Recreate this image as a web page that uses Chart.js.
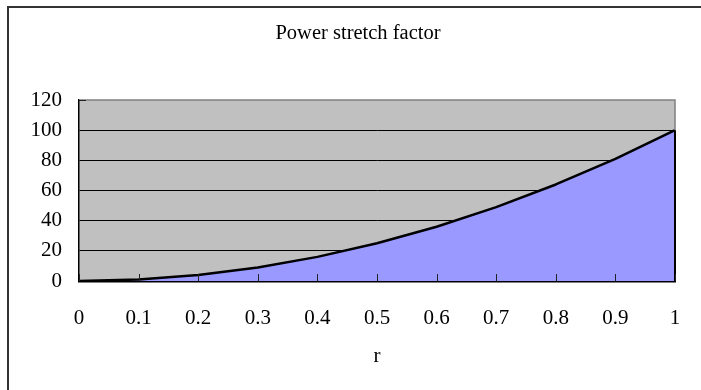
<!DOCTYPE html>
<html>
<head>
<meta charset="utf-8">
<script src="https://cdn.jsdelivr.net/npm/chart.js@4/dist/chart.umd.min.js"></script>
<style>
  html, body { margin: 0; padding: 0; background: #fff; }
  #wrap { position: relative; width: 701px; height: 390px; }
</style>
</head>
<body>
<div id="wrap"><canvas id="powerChart" width="701" height="390"></canvas></div>
<script>
const rLabels = ['0', '0.1', '0.2', '0.3', '0.4', '0.5', '0.6', '0.7', '0.8', '0.9', '1'];
const stretchValues = [0, 1, 4, 9, 16, 25, 36, 49, 64, 81, 100];
const yTicks = [0, 20, 40, 60, 80, 100, 120];
const chartTitle = 'Power stretch factor';
const xTitle = 'r';

const serif = "'Liberation Serif', 'DejaVu Serif', serif";

// excel-ish look: frame, grey plot area, inward ticks, title
const excelLook = {
  id: 'excelLook',
  beforeDraw(chart) {
    const { ctx, chartArea: a } = chart;
    ctx.save();
    ctx.fillStyle = '#fff';
    ctx.fillRect(0, 0, chart.width, chart.height);
    ctx.fillStyle = '#c0c0c0';
    ctx.fillRect(a.left, a.top, a.right - a.left, a.bottom - a.top);
    ctx.strokeStyle = '#333';
    ctx.lineWidth = 2;
    ctx.beginPath();
    ctx.moveTo(8, 390);
    ctx.lineTo(8, 7);
    ctx.lineTo(701, 7);
    ctx.stroke();
    ctx.restore();
  },
  afterDatasetsDraw(chart) {
    const { ctx, chartArea: a, scales } = chart;
    const lastY = scales.y.getPixelForValue(stretchValues[stretchValues.length - 1]);
    ctx.save();
    // plot border
    ctx.strokeStyle = '#808080';
    ctx.lineWidth = 1.5;
    ctx.beginPath();
    ctx.moveTo(a.left, a.top);
    ctx.lineTo(a.right, a.top);
    ctx.lineTo(a.right, lastY);
    ctx.stroke();
    ctx.strokeStyle = '#000';
    ctx.lineWidth = 2;
    ctx.beginPath();
    ctx.moveTo(a.right, lastY);
    ctx.lineTo(a.right, a.bottom);
    ctx.stroke();
    // inward ticks
    ctx.strokeStyle = '#222';
    ctx.lineWidth = 1;
    rLabels.forEach((lab, i) => {
      const x = Math.round(scales.x.getPixelForValue(i)) + 0.5;
      ctx.beginPath();
      ctx.moveTo(x, a.bottom);
      ctx.lineTo(x, a.bottom - 7);
      ctx.stroke();
    });
    const yTop = Math.round(scales.y.getPixelForValue(120)) + 0.5;
    ctx.beginPath();
    ctx.moveTo(a.left, yTop);
    ctx.lineTo(a.left + 7, yTop);
    ctx.stroke();
    ctx.restore();
  },
  afterDraw(chart) {
    const { ctx } = chart;
    ctx.save();
    ctx.font = '20.5px ' + serif;
    ctx.fillStyle = '#000';
    ctx.textAlign = 'center';
    ctx.textBaseline = 'alphabetic';
    ctx.fillText(chartTitle, 358, 39);
    ctx.restore();
  }
};

new Chart(document.getElementById('powerChart').getContext('2d'), {
  type: 'line',
  data: {
    labels: rLabels,
    datasets: [{
      label: chartTitle,
      data: stretchValues,
      borderColor: '#000',
      borderWidth: 2.5,
      backgroundColor: '#9999ff',
      fill: 'origin',
      tension: 0,
      pointRadius: 0,
      borderJoinStyle: 'round'
    }]
  },
  options: {
    responsive: false,
    animation: false,
    layout: { padding: { top: 100, right: 26, bottom: 0, left: 0 } },
    plugins: {
      legend: { display: false },
      tooltip: { enabled: false },
      title: { display: false }
    },
    scales: {
      x: {
        type: 'category',
        offset: false,
        afterFit(scale) {
          scale.height = 109;
          scale.paddingLeft = 0;
          scale.paddingRight = 0;
        },
        grid: { drawOnChartArea: false, drawTicks: false },
        border: { color: '#000', width: 2.5 },
        ticks: { color: '#000', padding: 25, maxRotation: 0, autoSkip: false, font: { family: serif, size: 21 } },
        title: { display: true, text: xTitle, color: '#000', font: { family: serif, size: 21 }, padding: { top: 0, bottom: 21 } }
      },
      y: {
        min: 0,
        max: 120,
        afterFit(scale) { scale.width = 79; },
        afterBuildTicks(scale) { scale.ticks = yTicks.map(v => ({ value: v })); },
        grid: {
          drawTicks: false,
          color: ctx => (ctx.tick && ctx.tick.value === 120 ? 'rgba(0,0,0,0)' : '#000'),
          lineWidth: 1
        },
        border: { color: '#000', width: 1.5 },
        ticks: { color: '#000', padding: 17, font: { family: serif, size: 21 } }
      }
    }
  },
  plugins: [excelLook]
});
</script>
</body>
</html>
